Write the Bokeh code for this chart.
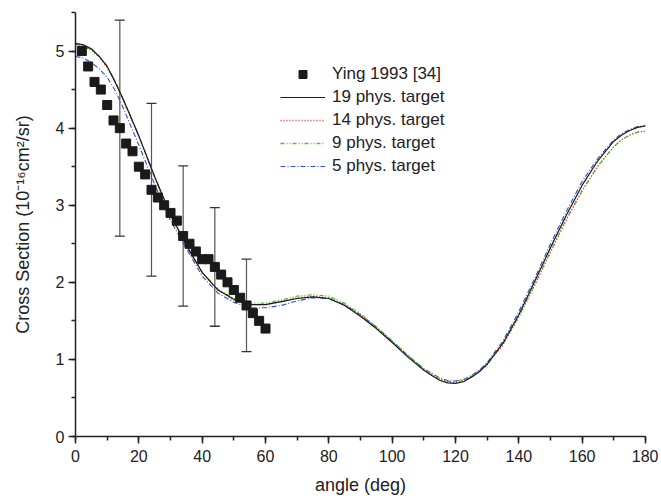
from bokeh.plotting import figure
from bokeh.models import (ColumnDataSource, Range1d, SingleIntervalTicker, Whisker,
                          TeeHead, Legend, LegendItem)
from bokeh.embed import file_html
from bokeh.resources import INLINE

# ---- data ----
ying_angle = [2, 4, 6, 8, 10, 12, 14, 16, 18, 20, 22, 24, 26, 28, 30,
              32, 34, 36, 38, 40, 42, 44, 46, 48, 50, 52, 54, 56, 58, 60]
ying_value = [5.0, 4.8, 4.6, 4.5, 4.3, 4.1, 4.0, 3.8, 3.7, 3.5, 3.4, 3.2, 3.1, 3.0, 2.9,
              2.8, 2.6, 2.5, 2.4, 2.3, 2.3, 2.2, 2.1, 2.0, 1.9, 1.8, 1.7, 1.6, 1.5, 1.4]

err_angle = [14, 24, 34, 44, 54]
err_value = [4.0, 3.2, 2.6, 2.2, 1.7]
err_half = [1.40, 1.12, 0.91, 0.77, 0.60]

curve_angle = [0, 2.5, 5, 7.5, 10, 12.5, 15, 20, 25, 30, 35, 40, 45, 50, 55, 60, 65, 70,
               75, 80, 85, 90, 95, 100, 105, 110, 112.5, 115, 117.5, 120, 122.5, 125,
               127.5, 130, 135, 140, 145, 150, 155, 160, 165, 170, 172.5, 175, 177.5, 180]
t19 = [5.10, 5.08, 5.03, 4.93, 4.80, 4.60, 4.38, 3.90, 3.37, 2.88, 2.48, 2.13, 1.90, 1.78,
       1.71, 1.71, 1.75, 1.79, 1.81, 1.79, 1.70, 1.56, 1.40, 1.22, 1.03, 0.86, 0.79, 0.73,
       0.695, 0.69, 0.71, 0.77, 0.84, 0.94, 1.21, 1.58, 2.01, 2.45, 2.87, 3.26, 3.58, 3.83,
       3.91, 3.97, 4.01, 4.03]
t14 = [5.08, 5.06, 5.01, 4.92, 4.79, 4.60, 4.37, 3.89, 3.36, 2.87, 2.47, 2.12, 1.90, 1.77,
       1.71, 1.71, 1.75, 1.80, 1.82, 1.80, 1.71, 1.57, 1.41, 1.23, 1.04, 0.87, 0.80, 0.74,
       0.705, 0.70, 0.72, 0.77, 0.84, 0.93, 1.19, 1.55, 1.96, 2.39, 2.81, 3.19, 3.51, 3.76,
       3.85, 3.91, 3.95, 3.96]
t9 = [5.09, 5.07, 5.02, 4.93, 4.80, 4.61, 4.38, 3.90, 3.37, 2.88, 2.48, 2.13, 1.91, 1.79,
      1.73, 1.73, 1.77, 1.82, 1.84, 1.82, 1.73, 1.59, 1.42, 1.24, 1.05, 0.88, 0.81, 0.75,
      0.715, 0.71, 0.73, 0.78, 0.85, 0.94, 1.20, 1.56, 1.97, 2.40, 2.82, 3.19, 3.51, 3.76,
      3.85, 3.91, 3.95, 3.96]
t5 = [4.93, 4.91, 4.85, 4.77, 4.66, 4.49, 4.27, 3.78, 3.27, 2.80, 2.44, 2.08, 1.86, 1.74,
      1.67, 1.67, 1.70, 1.76, 1.80, 1.79, 1.71, 1.58, 1.42, 1.24, 1.05, 0.88, 0.82, 0.76,
      0.725, 0.72, 0.74, 0.79, 0.86, 0.96, 1.24, 1.62, 2.05, 2.50, 2.92, 3.31, 3.61, 3.85,
      3.93, 3.98, 4.02, 4.03]

x_ticks_interval = 20
y_ticks_interval = 1

FONT = "Liberation Sans"
DARK = "#222222"

p = figure(width=658, height=498, output_backend="svg", toolbar_location=None,
           x_range=Range1d(0, 180), y_range=Range1d(0, 5.5),
           min_border_left=75, min_border_right=13, min_border_top=12, min_border_bottom=62)
p.outline_line_color = None
p.xgrid.grid_line_color = None
p.ygrid.grid_line_color = None
p.background_fill_color = "white"

p.xaxis.ticker = SingleIntervalTicker(interval=x_ticks_interval, num_minor_ticks=2)
p.yaxis.ticker = SingleIntervalTicker(interval=y_ticks_interval, num_minor_ticks=2)
for ax in (p.xaxis[0], p.yaxis[0]):
    ax.axis_line_color = DARK
    ax.axis_line_width = 1.5
    ax.major_tick_line_color = DARK
    ax.minor_tick_line_color = DARK
    ax.major_tick_line_width = 1.5
    ax.minor_tick_line_width = 1.5
    ax.major_tick_in = 0
    ax.major_tick_out = 7
    ax.minor_tick_in = 0
    ax.minor_tick_out = 4
    ax.major_label_text_font = FONT
    ax.major_label_text_font_size = "16px"
    ax.major_label_text_color = DARK
    ax.axis_label_text_font = FONT
    ax.axis_label_text_font_size = "18px"
    ax.axis_label_text_font_style = "normal"
    ax.axis_label_text_color = DARK

p.xaxis.major_label_standoff = 6
p.yaxis.major_label_standoff = 4
p.xaxis.axis_label = "angle (deg)"
p.yaxis.axis_label = "Cross Section (10\u207b\u00b9\u2076cm\u00b2/sr)"
p.xaxis.axis_label_standoff = 10
p.yaxis.axis_label_standoff = 20

src19 = ColumnDataSource(dict(x=curve_angle, y=t19))
src14 = ColumnDataSource(dict(x=curve_angle, y=t14))
src9 = ColumnDataSource(dict(x=curve_angle, y=t9))
src5 = ColumnDataSource(dict(x=curve_angle, y=t5))

r5 = p.line("x", "y", source=src5, line_color="#3050c8", line_width=1.1, line_dash="5 2 1 2")
r9 = p.line("x", "y", source=src9, line_color="#4fc428", line_width=1.3,
            line_dash="4 2 1 2 1 2")
r14 = p.line("x", "y", source=src14, line_color="#e03030", line_width=1.3, line_dash="1 2")
r19 = p.line("x", "y", source=src19, line_color="#1a1a1a", line_width=1.2)

err_src = ColumnDataSource(dict(
    x=err_angle,
    lower=[v - e for v, e in zip(err_value, err_half)],
    upper=[v + e for v, e in zip(err_value, err_half)],
))
wh = Whisker(source=err_src, base="x", lower="lower", upper="upper", dimension="height",
             line_color="#555555", line_width=1.2,
             upper_head=TeeHead(size=10, line_color="#333333", line_width=1.3),
             lower_head=TeeHead(size=10, line_color="#333333", line_width=1.3))
p.add_layout(wh)

ysrc = ColumnDataSource(dict(x=ying_angle, y=ying_value))
rs = p.scatter("x", "y", source=ysrc, marker="square", size=9, fill_color="#1a1a1a",
               line_color="#1a1a1a")

legend = Legend(items=[
    LegendItem(label="Ying 1993 [34]", renderers=[rs]),
    LegendItem(label="19 phys. target", renderers=[r19]),
    LegendItem(label="14 phys. target", renderers=[r14]),
    LegendItem(label="9 phys. target", renderers=[r9]),
    LegendItem(label="5 phys. target", renderers=[r5]),
], location=(205, 260))
legend.label_text_font = FONT
legend.label_text_font_size = "17px"
legend.label_text_color = DARK
legend.glyph_width = 45
legend.glyph_height = 20
legend.label_height = 20
legend.spacing = 3
legend.padding = 0
legend.margin = 0
legend.label_standoff = 7
legend.border_line_color = None
legend.background_fill_alpha = 0
p.add_layout(legend)

open("out.html", "w").write(file_html(p, INLINE))
